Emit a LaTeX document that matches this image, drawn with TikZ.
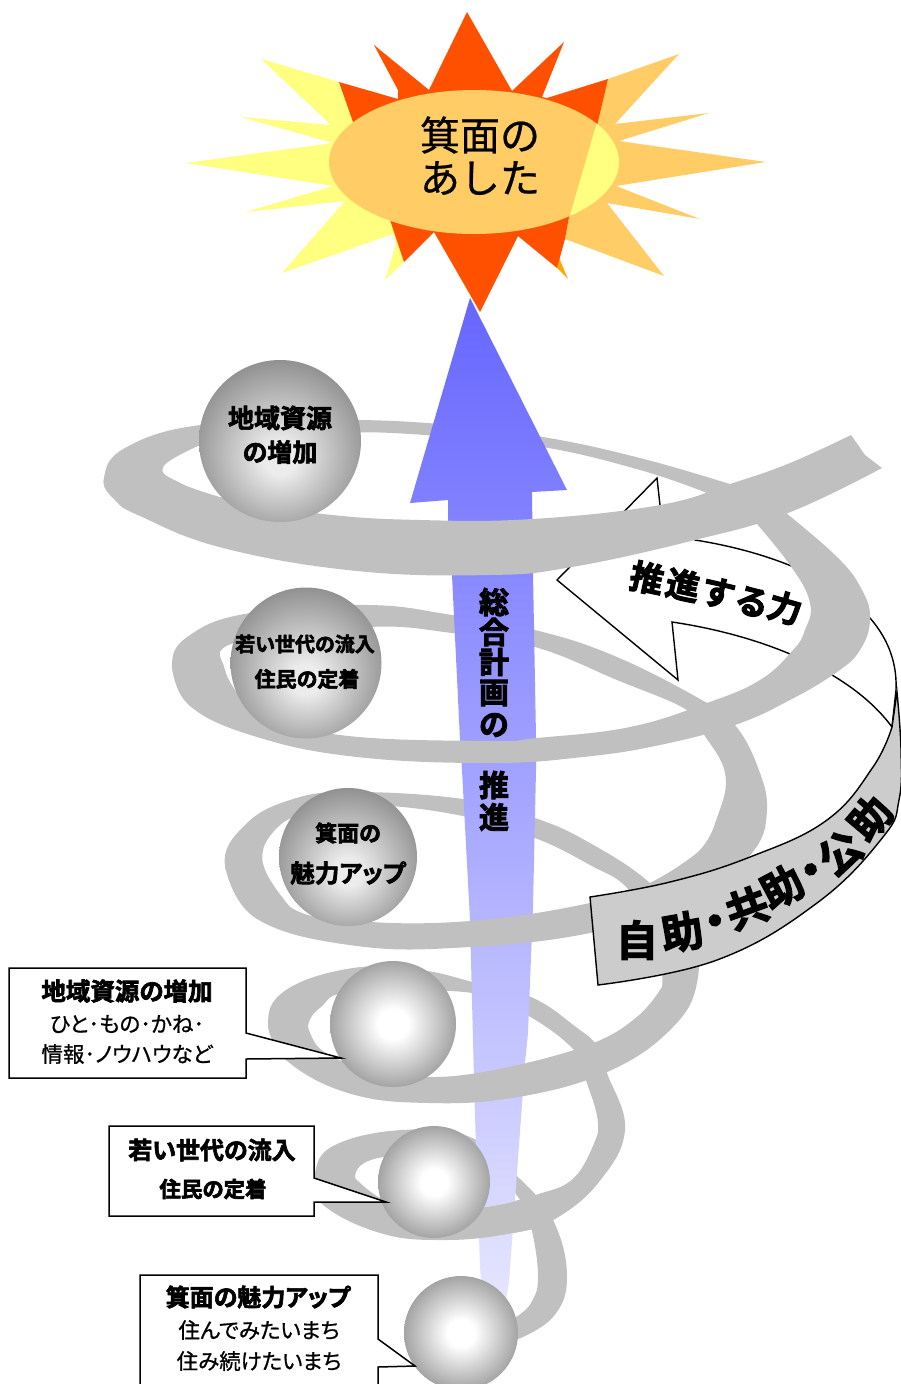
\documentclass[tikz,border=0pt]{standalone}
\usepackage{fontspec}
\newfontfamily\jsun[FakeBold=.6]{Noto Sans CJK JP}
\newfontfamily\jnorm[RawFeature=+palt,FakeBold=.8]{Noto Sans CJK JP}
\newfontfamily\jfat[RawFeature=+palt,FakeBold=2.6]{Noto Sans CJK JP Bold}
\newfontfamily\jheavy[FakeBold=3]{Noto Sans CJK JP Bold}
\newcommand\fsz[1]{\fontsize{#1}{#1}\selectfont}
\definecolor{band}{HTML}{C0C0C0}
\definecolor{sunred}{HTML}{FF5000}
\definecolor{sunyel}{HTML}{FFFF80}
\definecolor{sunorg}{HTML}{FFCC66}
\definecolor{signgray}{HTML}{CCCCCC}
\definecolor{ballhi}{HTML}{ECECEC}
\definecolor{balled}{HTML}{747474}
\pgfdeclareradialshading{ballup}{\pgfpoint{0bp}{-6bp}}{color(0bp)=(ballhi);color(5bp)=(ballhi);color(35bp)=(balled);color(50bp)=(balled)}
\pgfdeclareradialshading{ballmid}{\pgfpoint{0bp}{0bp}}{color(0bp)=(white);color(6bp)=(white);color(35bp)=(balled);color(50bp)=(balled)}
\tikzset{
  bandfill/.style={fill=band,draw=none},
  smo/.style={smooth,tension=.7},
  ballA/.style={shading=ballup},
  ballB/.style={shading=ballmid},
  callout/.style={draw=black,line width=1.5pt,fill=white,line join=miter},
  lab/.style={inner sep=0pt,text=black},
  fat/.style={lab,font=\jfat},
  thin/.style={lab,font=\jnorm},
}
\begin{document}
\begin{tikzpicture}[x=1pt,y=-1pt]
\useasboundingbox (0,0) rectangle (901,1384);
\clip (0,0) rectangle (901,1384);
% sun
\fill[sunyel] (339,82)--(261,59)--(331,125)--(241,117)--(333,143)--(186,163)--(333,186)--(246,212)--(345,201)--(282,273)--(393,234)--(396,244)--(385,280)--(404,262)--(420,180)--(380,110)--cycle;
\fill[sunorg] (608,79)--(679,54)--(615,124)--(709,113)--(619,141)--(766,162)--(616,186)--(700,219)--(607,203)--(664,276)--(565,239)--(569,217)--(596,122)--cycle;
\fill[orange!70!yellow] (559,258)--(568,279)--(557,268)--cycle;
\fill[sunred] (339,82)--(398,99)--(398,90)--(374,45)--(429,90)--(467,12)--(512,91)--(564,42)--(542,97)--(547,98)--(608,79)--(596,130)--(569,217)--(565,239)--(557,268)--(518,236)--(480,312)--(434,232)--(404,262)--(390,220)--(353,122)--cycle;
\fill[sunorg] (474,162) ellipse [x radius=145,y radius=72];
\begin{scope}
\clip (474,162) ellipse [x radius=145,y radius=72];
\fill[sunyel] (597,122)--(570,215)--(640,215)--(640,122)--cycle;
\end{scope}
\node[lab,font=\jsun\fsz{40}] (sunA) at (480,135) {箕面の};
\node[lab,font=\jsun\fsz{40}] (sunB) at (480,178) {あした};
% back bands
\fill[bandfill] plot[smo] coordinates {(140,516)(115,500)(104,478)(125,448)(200,425)(330,420)(440,424)(543,437)(640,458)(733,485)} -- plot[smo] coordinates {(707,493)(640,470)(543,447)(440,436)(330,433)(198,446)(163,467)(180,483)(223,498)} -- cycle;
\fill[bandfill] plot[smo] coordinates {(190,706)(172,666)(190,635)(250,613)(367,605)(452,615)(535,630)(617,657)(707,703)(735,725)(757,765)(767,810)(752,853)(700,895)} -- plot[smo] coordinates {(650,883)(697,853)(718,815)(725,773)(703,733)(687,710)(617,680)(535,647)(452,633)(367,627)(237,642)(225,670)(250,710)} -- cycle;
\fill[bandfill] plot[smo] coordinates {(257,919)(225,866)(245,825)(290,800)(350,792)(463,799)(535,818)(590,843)(650,883)(690,930)(697,983)(670,1030)(607,1072)(518,1097)} -- plot[smo] coordinates {(527,1063)(594,1043)(637,1017)(662,987)(650,930)(627,888)(590,865)(535,838)(463,816)(370,805)(310,812)(275,830)(263,864)(290,907)} -- cycle;
\fill[bandfill] plot[smo] coordinates {(286,1060)(268,1025)(286,990)(353,968)(420,970)(473,982)(531,997)(576,1027)(598,1047)(607,1073)(625,1130)(598,1183)(553,1220)(513,1233)} -- plot[smo] coordinates {(487,1207)(536,1195)(575,1177)(598,1133)(585,1077)(574,1050)(527,1015)(473,993)(353,992)(321,1007)(308,1027)(318,1047)(339,1060)} -- cycle;
\fill[bandfill] plot[smo] coordinates {(321,1203)(315,1173)(335,1145)(402,1130)(470,1137)(518,1177)(553,1220)(567,1277)(553,1317)(516,1340)} -- plot[smo] coordinates {(516,1317)(531,1303)(538,1277)(531,1227)(518,1197)(480,1160)(384,1157)(355,1178)(384,1200)} -- cycle;
% big blue arrow
\shade[bottom color=blue!6!white,top color={rgb,255:red,102;green,102;blue,255}]
 (470,298)--(567,490)--(532,492)--(533,573)--(536,737)--(536,770)--(533,907)--(528,1033)--(525,1063)--(509,1283)--(491,1384)--(490,1384)--(480,1267)--(475,1117)--(473,1040)--(470,920)--(462,770)--(460,740)--(452,575)--(448,520)--(448,500)--(410,503)--cycle;
% white curved arrow
\draw[draw=black,line width=1.4pt,fill=white,line join=miter] (557,580)--(657,478)--(660,505)--(695,540) .. controls (790,555) and (900,600) .. (896,690)--(892,727) .. controls (850,670) and (760,635) .. (672,622)--(678,680)--cycle;
% front bands
\fill[bandfill] plot[smo] coordinates {(851,435)(790,463)(733,483)(660,505)(532,519)(420,520)(323,514)(223,498)(180,483)(163,467)(198,446)} -- plot[smo] coordinates {(125,448)(104,478)(115,500)(140,516)(223,548)(357,571)(490,575)(572,567)(695,540)(788,513)(882,468)} -- (865,455) -- cycle;
\fill[bandfill] plot[smo] coordinates {(770,500)(835,555)(862,590)(870,620)(860,650)(837,672)(790,700)(735,725)(660,745)(583,757)(490,763)(357,757)(257,737)(190,706)(172,666)} -- plot[smo] coordinates {(225,670)(250,710)(340,735)(490,741)(537,738)(630,727)(707,703)(760,680)(793,650)(805,630)(810,603)(790,565)(745,510)} -- cycle;
\fill[bandfill] plot[smo] coordinates {(752,853)(680,905)(590,933)(470,947)(357,946)(257,919)(225,866)} -- plot[smo] coordinates {(263,864)(290,907)(357,921)(470,921)(590,903)(650,883)(697,853)} -- cycle;
\fill[bandfill] plot[smo] coordinates {(670,1030)(607,1072)(518,1097)(428,1103)(348,1093)(286,1060)(268,1025)} -- plot[smo] coordinates {(308,1027)(318,1047)(339,1060)(428,1077)(527,1063)(594,1043)(637,1017)(662,987)} -- cycle;
\fill[bandfill] plot[smo] coordinates {(625,1130)(598,1183)(553,1220)(513,1233)(446,1240)(380,1233)(321,1203)(315,1173)} -- plot[smo] coordinates {(355,1178)(384,1200)(430,1212)(487,1207)(536,1195)(575,1177)(598,1133)} -- cycle;
% sign
\draw[draw=black,line width=1.4pt,fill=signgray,line join=miter] plot[smo] coordinates {(590,897)(670,882)(750,857)(827,820)(873,767)(892,727)} -- (897,692) -- plot[smo] coordinates {(897,692)(901,750)(899,800)(883,837)(817,903)(717,960)(598,985)} -- cycle;
% spheres
\path[ballA] (280,441) circle [radius=81];
\path[ballA] (306,663) circle [radius=75.5];
\path[ballA] (348,857) circle [radius=69];
\path[ballB] (393,1024) circle [radius=63];
\path[ballB] (434,1182) circle [radius=56];
\path[ballB] (461,1333) circle [radius=57];
% sphere texts
\node[fat,font=\jfat\fsz{26}] (s1a) at (280,418) {地域資源};
\node[fat,font=\jfat\fsz{25}] (s1b) at (280,452) {の増加};
\node[fat,font=\jfat\fsz{20}] (s2a) at (305,644) {若い世代の流入};
\node[fat,font=\jfat\fsz{21}] (s2b) at (307,679) {住民の定着};
\node[fat,font=\jfat\fsz{22}] (s3a) at (348,833) {箕面の};
\node[fat,font=\jfat\fsz{24.5}] (s3b) at (348,873) {魅力アップ};
% arrow text
\foreach \t/\yy/\n in {総/602/a,合/632/b,計/662/c,画/693/d,の/725/e,推/785/f,進/817/g}
  \node[lab,font=\jheavy\fsz{30}] (v\n) at (494,\yy) {\t};
% pushing force
\node[lab,font=\jheavy\fsz{34},rotate=-12] (pa) at (647,578) {推};
\node[lab,font=\jheavy\fsz{34},rotate=-12] (pb) at (683,585) {進};
\node[lab,font=\jheavy\fsz{34},rotate=-14] (pc) at (718,593) {す};
\node[lab,font=\jheavy\fsz{34},rotate=-16] (pd) at (752,602) {る};
\node[lab,font=\jheavy\fsz{34},rotate=-16] (pe) at (785,608) {力};
% sign text
\node[lab,font=\jheavy\fsz{42}] (ga) at (637,940) {自};
\node[lab,font=\jheavy\fsz{42},rotate=10] (gb) at (682,932) {助};
\node[lab,font=\jheavy\fsz{56},rotate=15] (gc) at (717,928) {･};
\node[lab,font=\jheavy\fsz{42},rotate=20] (gd) at (747,908) {共};
\node[lab,font=\jheavy\fsz{42},rotate=28] (ge) at (782,887) {助};
\node[lab,font=\jheavy\fsz{56},rotate=33] (gf) at (815,876) {･};
\node[lab,font=\jheavy\fsz{42},rotate=40] (gg) at (840,853) {公};
\node[lab,font=\jheavy\fsz{42},rotate=50] (gh) at (870,818) {助};
% callouts
\draw[callout] (9,968)--(246,968)--(246,1033)--(341,1058)--(246,1059)--(246,1078)--(9,1078)--cycle;
\draw[callout] (109,1126)--(314,1126)--(314,1178)--(386,1202)--(314,1202)--(314,1216)--(109,1216)--cycle;
\draw[callout] (140,1275)--(378,1275)--(378,1339)--(415,1366)--(378,1367)--(378,1400)--(140,1400)--cycle;
\node[fat,font=\jfat\fsz{24.5}] (c1a) at (127,991) {地域資源の増加};
\node[thin,font=\jnorm\fsz{21.5}] (c1b) at (127,1024) {ひと･もの･かね･};
\node[thin,font=\jnorm\fsz{21.5}] (c1c) at (127,1054) {情報･ノウハウなど};
\node[fat,font=\jfat\fsz{24}] (c2a) at (212,1150) {若い世代の流入};
\node[fat,font=\jfat\fsz{21.5}] (c2b) at (213,1189) {住民の定着};
\node[fat,font=\jfat\fsz{24}] (c3a) at (258,1297) {箕面の魅力アップ};
\node[thin,font=\jnorm\fsz{21.5}] (c3b) at (259,1330) {住んでみたいまち};
\node[thin,font=\jnorm\fsz{21.5}] (c3c) at (259,1361) {住み続けたいまち};
\end{tikzpicture}
\end{document}
